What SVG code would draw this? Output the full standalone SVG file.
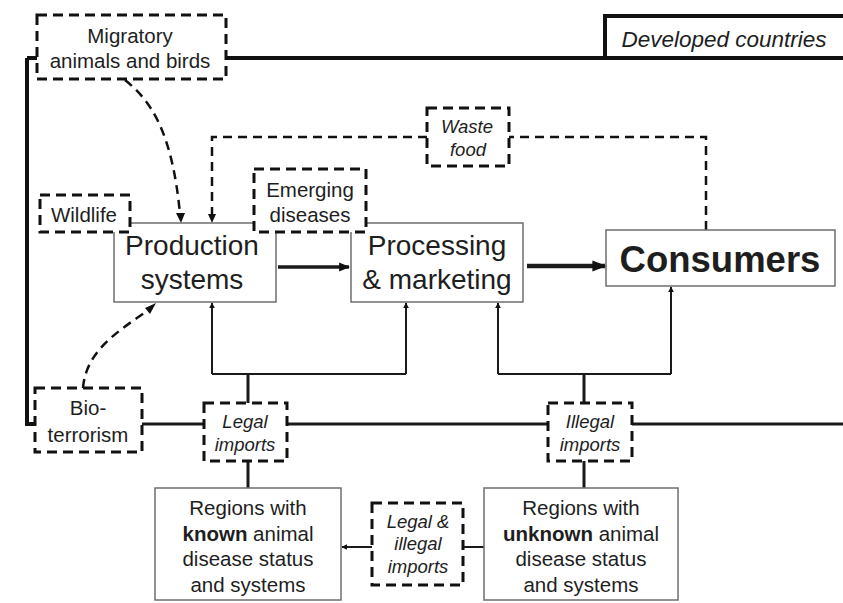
<svg xmlns="http://www.w3.org/2000/svg" width="843" height="603" viewBox="0 0 843 603">
  <style>
    text { font-family: "Liberation Sans", Arial, sans-serif; fill: #1e1e1e; text-anchor: middle; }
    .solid { fill: #fff; stroke: #6e6e6e; stroke-width: 1.5; }
    .dash { fill: #fff; stroke: #111; stroke-width: 3; stroke-dasharray: 10 6; }
    .dline { fill: none; stroke: #111; stroke-width: 2.5; stroke-dasharray: 9 6; }
    .border { fill: none; stroke: #111; stroke-width: 4; }
    .link { fill: none; stroke: #1a1a1a; stroke-width: 2; }
    .big { font-size: 28px; }
    .mid { font-size: 20.5px; }
    .ital { font-size: 18.5px; font-style: italic; }
  </style>
  <defs>
    <marker id="ah" viewBox="0 0 10 10" refX="9" refY="5" markerWidth="6" markerHeight="6" orient="auto" markerUnits="userSpaceOnUse">
      <path d="M0,0 L10,5 L0,10 z" fill="#111"/>
    </marker>
    <marker id="ahBig" viewBox="0 0 10 10" refX="9" refY="5" markerWidth="14" markerHeight="14" orient="auto" markerUnits="userSpaceOnUse">
      <path d="M0,1 L10,5 L0,9 z" fill="#111"/>
    </marker>
    <marker id="ahMid" viewBox="0 0 10 10" refX="9" refY="5" markerWidth="11" markerHeight="11" orient="auto" markerUnits="userSpaceOnUse">
      <path d="M0,1 L10,5 L0,9 z" fill="#111"/>
    </marker>
  </defs>
  <rect width="843" height="603" fill="#fff"/>

  <!-- connectors -->
  <g id="connectors">
    <!-- developed-country boundary -->
    <path class="border" d="M226,58 H843 M605,58 V16 H843 M27,58 V424 H36 M27,58 H40"/>
    <path class="link" style="stroke-width:3" d="M142,424 H204 M287,424 H548 M632,424 H843"/>
    <!-- main flow -->
    <line x1="278" y1="267" x2="349" y2="267" class="link" style="stroke-width:3.5" marker-end="url(#ahMid)"/>
    <line x1="527" y1="266" x2="605" y2="266" class="link" style="stroke-width:4.5" marker-end="url(#ahBig)"/>
    <!-- legal imports into production and processing -->
    <path class="link" style="stroke-width:3" d="M248,403 V374"/>
    <path class="link" d="M212,374 H406"/>
    <line x1="212" y1="374" x2="212" y2="303" class="link" marker-end="url(#ah)"/>
    <line x1="406" y1="374" x2="406" y2="303" class="link" marker-end="url(#ah)"/>
    <!-- illegal imports into processing and consumers -->
    <path class="link" style="stroke-width:3" d="M584,403 V374"/>
    <path class="link" d="M498,374 H671"/>
    <line x1="498" y1="374" x2="498" y2="303" class="link" marker-end="url(#ah)"/>
    <line x1="671" y1="374" x2="671" y2="287" class="link" marker-end="url(#ah)"/>
    <!-- import boxes down to regions -->
    <path class="link" style="stroke-width:3" d="M248,461 V488 M584,461 V488"/>
    <!-- legal & illegal imports between regions -->
    <path class="link" d="M484,547 H463"/>
    <line x1="372" y1="547" x2="342" y2="547" class="link" marker-end="url(#ah)"/>
    <!-- waste food loop -->
    <path class="dline" d="M706,230 V137 H509 M427,137 H212 V215"/>
    <path d="M208,214 L212,223 L216,214 z" fill="#111"/>
    <!-- migratory animals into production -->
    <path class="dline" d="M125,80 C150,100 172,130 180,214"/>
    <path d="M176,213 L181,223 L185,213 z" fill="#111"/>
    <!-- bio-terrorism into production -->
    <path class="dline" d="M83,388 C86,350 120,330 150,309"/>
    <path d="M145,308 L156,303 L150,314 z" fill="#111"/>
  </g>

  <g id="production">
    <rect class="solid" x="114" y="223" width="162" height="79"/>
    <text class="big" x="192" y="255">Production</text>
    <text class="big" x="192" y="289">systems</text>
  </g>
  <g id="processing">
    <rect class="solid" x="351" y="223" width="172" height="79"/>
    <text class="big" x="437" y="255">Processing</text>
    <text class="big" x="437" y="289">&amp; marketing</text>
  </g>
  <g id="consumers">
    <rect class="solid" x="606" y="230" width="229" height="56"/>
    <text x="720" y="272" style="font-size:36.5px;font-weight:bold">Consumers</text>
  </g>
  <g id="developed">
    <text x="724" y="47" style="font-size:22.5px;font-style:italic">Developed countries</text>
  </g>
  <g id="migratory">
    <rect class="dash" x="37" y="15" width="189" height="64"/>
    <text class="mid" x="130" y="43">Migratory</text>
    <text class="mid" x="130" y="68">animals and birds</text>
  </g>
  <g id="wildlife">
    <rect class="dash" x="40" y="195" width="90" height="37"/>
    <text class="mid" x="84" y="222">Wildlife</text>
  </g>
  <g id="emerging">
    <rect class="dash" x="254" y="169" width="112" height="63"/>
    <text class="mid" x="310" y="197">Emerging</text>
    <text class="mid" x="310" y="222">diseases</text>
  </g>
  <g id="waste">
    <rect class="dash" x="427" y="108" width="82" height="58"/>
    <text class="ital" x="467" y="133">Waste</text>
    <text class="ital" x="468" y="156">food</text>
  </g>
  <g id="bioterrorism">
    <rect class="dash" x="35" y="388" width="107" height="64"/>
    <text class="mid" x="88" y="415">Bio-</text>
    <text class="mid" x="88" y="442">terrorism</text>
  </g>
  <g id="legal-imports">
    <rect class="dash" x="204" y="403" width="83" height="58"/>
    <text class="ital" x="245" y="428">Legal</text>
    <text class="ital" x="245" y="451">imports</text>
  </g>
  <g id="illegal-imports">
    <rect class="dash" x="548" y="403" width="84" height="58"/>
    <text class="ital" x="590" y="428">Illegal</text>
    <text class="ital" x="590" y="451">imports</text>
  </g>
  <g id="known-regions">
    <rect class="solid" x="155" y="488" width="186" height="112"/>
    <text class="mid" x="248" y="515">Regions with</text>
    <text class="mid" x="248" y="541"><tspan font-weight="bold">known</tspan> animal</text>
    <text class="mid" x="248" y="566">disease status</text>
    <text class="mid" x="248" y="592">and systems</text>
  </g>
  <g id="trade-imports">
    <rect class="dash" x="372" y="503" width="91" height="82"/>
    <text class="ital" x="418" y="528">Legal  &amp;</text>
    <text class="ital" x="418" y="550">illegal</text>
    <text class="ital" x="418" y="573">imports</text>
  </g>
  <g id="unknown-regions">
    <rect class="solid" x="484" y="488" width="194" height="112"/>
    <text class="mid" x="581" y="515">Regions with</text>
    <text class="mid" x="581" y="541"><tspan font-weight="bold">unknown</tspan> animal</text>
    <text class="mid" x="581" y="566">disease status</text>
    <text class="mid" x="581" y="592">and systems</text>
  </g>
</svg>
